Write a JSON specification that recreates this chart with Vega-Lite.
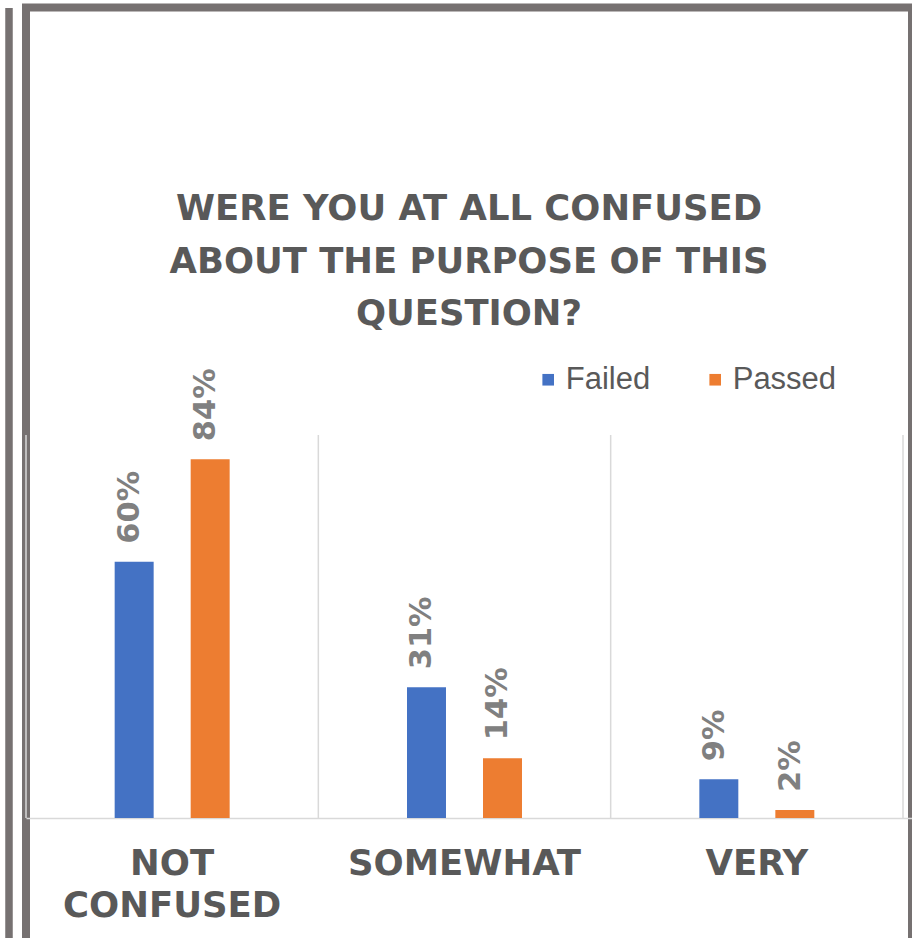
{
  "$schema": "https://vega.github.io/schema/vega-lite/v6.json",
  "autosize": {"type": "none"},
  "width": 886,
  "height": 934.5,
  "padding": {"left": 26, "top": 7.5, "right": 0, "bottom": -4},
  "background": "white",
  "config": {"view": {"stroke": "#767171", "strokeWidth": 8}},
  "title": {
    "text": ["WERE YOU AT ALL CONFUSED", "ABOUT THE PURPOSE OF THIS", "QUESTION?"],
    "font": "DejaVu Sans",
    "fontSize": 35.4,
    "fontWeight": "bold",
    "color": "#595959",
    "lineHeight": 52.5,
    "anchor": "middle",
    "frame": "group",
    "offset": -325
  },
  "datasets": {
    "bars": [
      {"cat": "NOT CONFUSED", "group": "Failed", "value": 60, "label": "60%"},
      {"cat": "NOT CONFUSED", "group": "Passed", "value": 84, "label": "84%"},
      {"cat": "SOMEWHAT", "group": "Failed", "value": 30.6, "label": "31%"},
      {"cat": "SOMEWHAT", "group": "Passed", "value": 14, "label": "14%"},
      {"cat": "VERY", "group": "Failed", "value": 9.1, "label": "9%"},
      {"cat": "VERY", "group": "Passed", "value": 1.9, "label": "2%"}
    ],
    "cats": [
      {"cat": "NOT CONFUSED"},
      {"cat": "SOMEWHAT"},
      {"cat": "VERY"}
    ]
  },
  "layer": [
    {
      "data": {"name": "bars"},
      "mark": {"type": "bar"},
      "encoding": {
        "x": {
          "field": "cat",
          "type": "nominal",
          "scale": {"paddingInner": 0, "paddingOuter": 0.0154, "align": 0},
          "axis": {
            "orient": "bottom",
            "offset": -124,
            "title": null,
            "labelAngle": 0,
            "ticks": false,
            "grid": false,
            "domainColor": "#d9d9d9",
            "domainWidth": 1.5,
            "labelFont": "DejaVu Sans",
            "labelFontWeight": "bold",
            "labelFontSize": 35.5,
            "labelColor": "#595959",
            "labelPadding": 28,
            "labelLineHeight": 42,
            "labelLimit": 400,
            "labelExpr": "datum.label == 'NOT CONFUSED' ? ['NOT', 'CONFUSED'] : datum.label"
          }
        },
        "xOffset": {
          "field": "group",
          "type": "nominal",
          "scale": {
            "domain": ["left gap", "Failed", "Passed", "right gap"],
            "paddingInner": 0.487,
            "paddingOuter": 0.1667
          }
        },
        "y": {
          "field": "value",
          "type": "quantitative",
          "scale": {"domain": [-29.04, 189.81], "zero": false, "nice": false},
          "axis": {
            "orient": "left",
            "offset": 17.5,
            "title": null,
            "labels": false,
            "ticks": false,
            "grid": false,
            "domainColor": "#767171",
            "domainWidth": 7.5
          }
        },
        "y2": {"datum": 0},
        "color": {
          "field": "group",
          "type": "nominal",
          "scale": {"domain": ["Failed", "Passed"], "range": ["#4472C4", "#ED7D31"]},
          "legend": {
            "title": null,
            "orient": "none",
            "legendX": 506.7,
            "legendY": 356.5,
            "direction": "horizontal",
            "symbolType": "square",
            "symbolSize": 135,
            "symbolStrokeWidth": 0,
            "labelFont": "Liberation Sans",
            "labelFontSize": 31,
            "labelColor": "#595959",
            "labelOffset": 2,
            "columnPadding": 49,
            "padding": 0
          }
        }
      }
    },
    {
      "data": {"name": "cats"},
      "mark": {"type": "rule", "color": "#d9d9d9", "strokeWidth": 1.5},
      "encoding": {
        "x": {"field": "cat", "type": "nominal", "bandPosition": 0},
        "y": {"datum": 0, "type": "quantitative"},
        "y2": {"datum": 89.7}
      }
    },
    {
      "data": {"name": "cats"},
      "transform": [{"filter": "datum.cat == 'VERY'"}],
      "mark": {"type": "rule", "color": "#d9d9d9", "strokeWidth": 1.5},
      "encoding": {
        "x": {"field": "cat", "type": "nominal", "bandPosition": 1},
        "y": {"datum": 0, "type": "quantitative"},
        "y2": {"datum": 89.7}
      }
    },
    {
      "data": {"name": "bars"},
      "mark": {
        "type": "text",
        "angle": 270,
        "align": "left",
        "baseline": "middle",
        "dx": 18,
        "dy": -4,
        "font": "DejaVu Sans",
        "fontWeight": "bold",
        "fontSize": 30.5,
        "color": "#808080"
      },
      "encoding": {
        "x": {"field": "cat", "type": "nominal"},
        "xOffset": {"field": "group", "type": "nominal"},
        "y": {"field": "value", "type": "quantitative"},
        "text": {"field": "label"}
      }
    }
  ]
}
